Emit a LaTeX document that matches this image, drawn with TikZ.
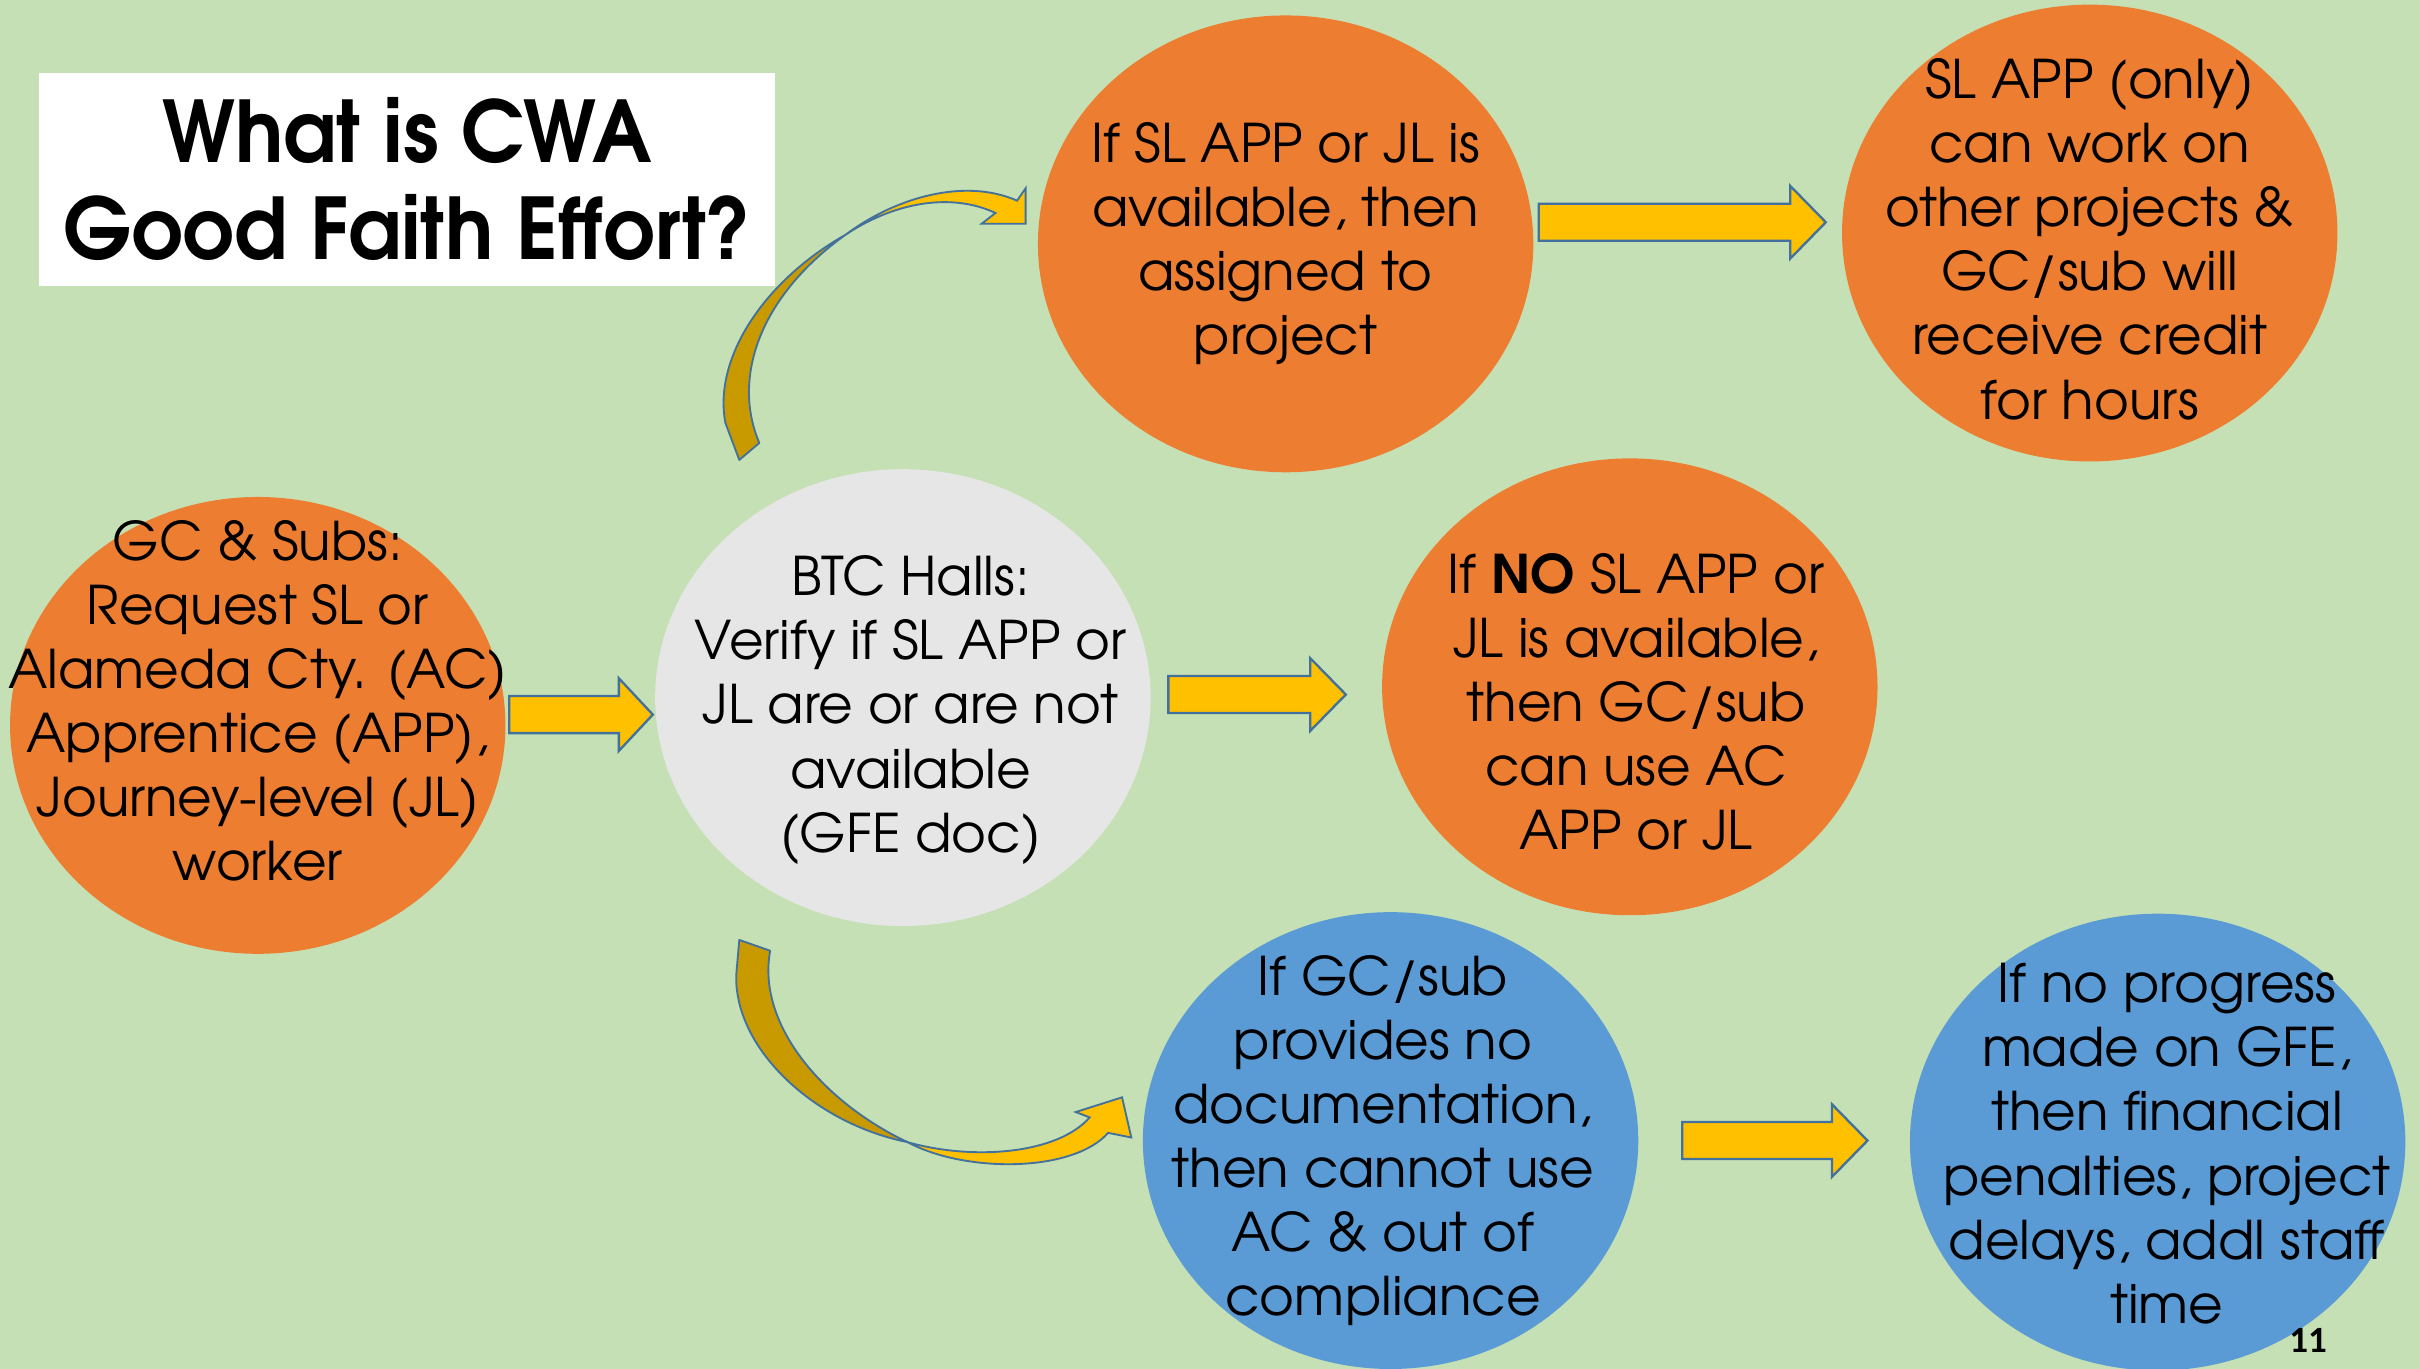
\documentclass[tikz,border=0pt]{standalone}
\usepackage{fontspec}
\setmainfont{TeX Gyre Adventor}
\newfontfamily\numfont{Carlito}
\usetikzlibrary{shapes.geometric}
\definecolor{bgc}{HTML}{C5E0B4}
\definecolor{orng}{HTML}{ED7D31}
\definecolor{grayc}{HTML}{E7E6E6}
\definecolor{bluec}{HTML}{5B9BD5}
\definecolor{yell}{HTML}{FFC000}
\definecolor{gold}{HTML}{C99A00}
\definecolor{edgec}{HTML}{41719C}
\newcommand\blockarr[4]{%
  \filldraw[barrow] (#1,#3-12) -- (#4,#3-12) -- (#4,#3-23.5) -- (#2,#3) -- (#4,#3+23.5) -- (#4,#3+12) -- (#1,#3+12) -- cycle;}
\begin{document}
\begin{tikzpicture}[x=1pt,y=-1pt,
  ell/.style={ellipse, draw=none, minimum width=321pt, minimum height=296pt, inner sep=0pt},
  txt/.style={align=center, font=\fontsize{34.5}{41.5}\selectfont, inner sep=0pt},
  barrow/.style={fill=yell, draw=edgec, line width=1.5pt, line join=miter}]
\fill[bgc] (0,0) rectangle (1568,887);
\useasboundingbox (0,0) rectangle (1568,887);
% title
\node[fill=white, minimum width=477pt, minimum height=138pt, inner sep=0pt] (title) at (263.5,116) {};
\node[align=center, inner sep=0pt, font=\bfseries\fontsize{55}{62.5}\selectfont] (titlet) at (264,116) {\scalebox{0.95}[1]{What is CWA}\\\scalebox{0.95}[1]{Good Faith Effort?}};
% ellipses
\node[ell, fill=orng] (A) at (167,470) {};
\node[ell, fill=grayc] (B) at (585,452) {};
\node[ell, fill=orng] (C) at (833,158) {};
\node[ell, fill=orng] (D) at (1354,151) {};
\node[ell, fill=orng] (E) at (1056,445) {};
\node[ell, fill=bluec] (F) at (901,739) {};
\node[ell, fill=bluec] (G) at (1398,740) {};
% texts
\node[txt] (At) at (167,454) {GC \& Subs:\\Request SL or\\Alameda Cty. (AC)\\Apprentice (APP),\\Journey-level (JL)\\worker};
\node[txt] (Bt) at (590,460) {BTC Halls:\\Verify if SL APP or\\JL are or are not\\available\\(GFE doc)};
\node[txt] (Ct) at (833,158) {If SL APP or JL is\\available, then\\assigned to\\project};
\node[txt] (Dt) at (1354,155) {SL APP (only)\\can work on\\other projects \&\\GC/sub will\\receive credit\\for hours};
\node[txt] (Et) at (1060,455) {If \textbf{NO} SL APP or\\JL is available,\\then GC/sub\\can use AC\\APP or JL};
\node[txt] (Ft) at (896,739) {If GC/sub\\provides no\\documentation,\\then cannot use\\AC \& out of\\compliance};
\node[txt] (Gt) at (1404,741) {If no progress\\made on GFE,\\then financial\\penalties, project\\delays, addl staff\\time};
\node[font=\numfont\bfseries\fontsize{24}{28}\selectfont, inner sep=0pt] (num) at (1495.5,868.5) {11};
% straight block arrows
\blockarr{330}{423}{463}{401}
\blockarr{757}{872}{450}{849}
\blockarr{997}{1183}{144}{1160}
\blockarr{1090}{1210}{739}{1187}
% curved arrow up (B -> C)
\filldraw[fill=gold, draw=edgec, line width=1.2pt, line join=round]
  (492,287) .. controls (474,245) and (492,192) .. (548,152)
  .. controls (495,182) and (462,232) .. (470,274) -- (479,298) -- cycle;
\filldraw[fill=yell, draw=edgec, line width=1.2pt, line join=miter]
  (548,152) .. controls (580,128) and (625,115) .. (659,130) -- (664.5,122) -- (664.5,145) -- (636,145) -- (645,138)
  .. controls (615,124) and (578,132) .. (548,152) -- cycle;
% curved arrow down (B -> F)
\filldraw[fill=gold, draw=edgec, line width=1.2pt, line join=round]
  (479,609) -- (499,616) .. controls (490,665) and (535,715) .. (588,740)
  .. controls (528,728) and (476,680) .. (477,632) -- cycle;
\filldraw[fill=yell, draw=edgec, line width=1.2pt, line join=miter]
  (588,740) .. controls (625,760) and (695,760) .. (718,734) -- (733,737) -- (727,711) -- (697,720.5) -- (706,724)
  .. controls (685,748) and (630,752) .. (588,740) -- cycle;
\end{tikzpicture}
\end{document}
